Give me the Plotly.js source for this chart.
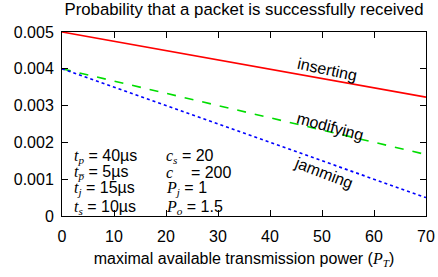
<!DOCTYPE html>
<html><head><meta charset="utf-8">
<script src="https://cdn.plot.ly/plotly-3.0.1.min.js"></script>
<style>html,body{margin:0;padding:0;background:#fff}#plot{width:438px;height:277px}</style>
</head><body><div id="plot"></div>
<script>
const power = [0, 10, 20, 30, 40, 50, 60, 70];
const inserting = [0.005, 0.00475, 0.00449, 0.00424, 0.00399, 0.00374, 0.00348, 0.00323];
const modifying = [0.004, 0.00367, 0.00333, 0.003, 0.00267, 0.00233, 0.002, 0.00167];
const jamming = [0.004, 0.0035, 0.003, 0.0025, 0.002, 0.0015, 0.001, 0.0005];
const xTicks = [0, 10, 20, 30, 40, 50, 60, 70];
const yTicks = [0, 0.001, 0.002, 0.003, 0.004, 0.005];
const yTickText = ["0", "0.001", "0.002", "0.003", "0.004", "0.005"];
const paramLeft = ["t|p|40µs", "t|p̅|5µs", "t|j|15µs", "t|s|10µs"];
const paramRight = ["c|s|20", "c||200", "P|j|1", "P|o|1.5"];

const F = "Liberation Sans, Arial, sans-serif";
const FS = 16;
const S = s => '<span style="font-family:Liberation Serif,Times New Roman,serif"><i>' + s + '</i></span>';

const traces = [
  {x: power, y: inserting, mode: "lines", line: {color: "#ff0000", width: 1.6}, name: "inserting"},
  {x: power, y: modifying, mode: "lines", line: {color: "#00dd00", width: 1.6, dash: "dash"}, name: "modifying"},
  {x: power, y: jamming, mode: "lines", line: {color: "#0000ff", width: 1.6, dash: "dot"}, name: "jamming"}
];

const axisCommon = {
  showline: true, linecolor: "#000", linewidth: 1, mirror: "allticks",
  ticks: "inside", ticklen: 6, tickcolor: "#000", tickwidth: 1,
  showgrid: false, zeroline: false, tickfont: {family: F, size: FS, color: "#000"}
};

const rowY = [0.00162, 0.00117, 0.00074, 0.00024];
const anns = [
  {x: 51, y: 0.00397, xref: "x", yref: "y", text: "inserting", showarrow: false, textangle: 12, font: {family: F, size: FS}},
  {x: 51.5, y: 0.00244, xref: "x", yref: "y", text: "modifying", showarrow: false, textangle: 15, font: {family: F, size: FS}},
  {x: 50.2, y: 0.00118, xref: "x", yref: "y", text: "jamming", showarrow: false, textangle: 21, font: {family: F, size: FS}}
];
paramLeft.forEach((p, i) => {
  const [v, sub, val] = p.split("|");
  anns.push({x: 1.9, y: rowY[i], xref: "x", yref: "y", xanchor: "left", yanchor: "middle", showarrow: false,
    font: {family: F, size: FS}, text: S(v) + "<sub>" + S(sub) + "</sub> = " + val});
});
paramRight.forEach((p, i) => {
  const [v, sub, val] = p.split("|");
  anns.push({x: 19.6, y: rowY[i], xref: "x", yref: "y", xanchor: "left", yanchor: "middle", showarrow: false,
    font: {family: F, size: FS}, text: S(v) + (sub ? "<sub>" + S(sub) + "</sub>" : "&nbsp;&nbsp;&nbsp;") + " = " + val});
});

const layout = {
  width: 438, height: 277,
  margin: {l: 62, r: 12, t: 32, b: 61},
  paper_bgcolor: "#fff", plot_bgcolor: "#fff",
  showlegend: false,
  font: {family: F, size: FS, color: "#000"},
  title: {text: "Probability that a packet is successfully received", font: {family: F, size: 16.8, color: "#000"},
          x: 0.5, xref: "paper", yref: "container", y: 0.966, yanchor: "middle"},
  xaxis: Object.assign({}, axisCommon, {range: [0, 70], tickvals: xTicks, ticktext: xTicks.map(String), ticklabelstandoff: 6,
    title: {text: "maximal available transmission power (" + S("P") + "<sub>" + S("T") + "</sub>)", font: {family: F, size: FS, color: "#000"}, standoff: 8}}),
  yaxis: Object.assign({}, axisCommon, {range: [0, 0.005], tickvals: yTicks, ticktext: yTickText, ticklabelstandoff: 4}),
  annotations: anns
};

Plotly.newPlot("plot", traces, layout, {displayModeBar: false, staticPlot: true});
</script></body></html>
